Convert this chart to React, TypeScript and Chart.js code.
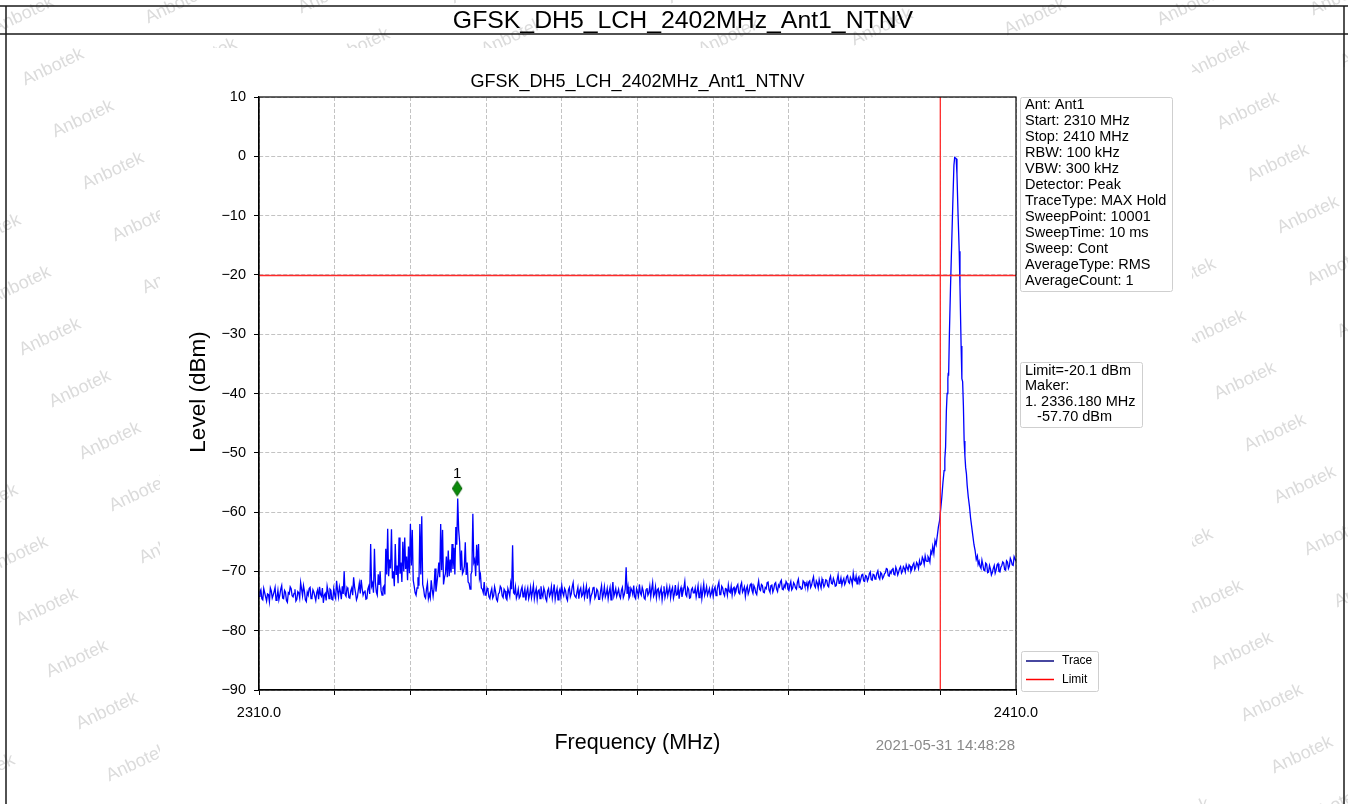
import React, { useEffect, useRef } from 'react';
import { Chart, registerables } from 'chart.js';

Chart.register(...registerables);

// ---------------- data ----------------
const TITLE = 'GFSK_DH5_LCH_2402MHz_Ant1_NTNV';
const X_TITLE = 'Frequency (MHz)';
const Y_TITLE = 'Level (dBm)';
const TIMESTAMP = '2021-05-31 14:48:28';

const FREQ_MIN = 2310;
const FREQ_MAX = 2410;
const FREQ_TICK_STEP = 10;
const X_LABELED_TICKS = [2310, 2410];
const LEVEL_MIN = -90;
const LEVEL_MAX = 10;
const LEVEL_TICK_STEP = 10;

// Trace samples on the 0.25 MHz grid, 2310.00 .. 2398.75 MHz
const TRACE_START = 2310;
const TRACE_STEP = 0.25;
const LEVELS_LOW = [
  -74.2, -73.1, -74.8, -73.6, -75.0, -73.9, -72.8, -74.5, -73.4, -74.9,
  -73.2, -74.0, -72.4, -74.6, -73.5, -75.2, -73.8, -72.9, -74.3, -73.0,
  -74.7, -73.6, -71.9, -74.1, -73.3, -75.1, -74.0, -72.7, -74.4, -73.5,
  -74.9, -73.1, -72.6, -74.2, -75.3, -73.7, -72.5, -74.6, -73.2, -74.8,
  -73.9, -71.6, -74.3, -73.4, -72.5, -70.0, -74.2, -73.0, -74.5, -72.8,
  -71.0, -73.6, -74.3, -72.0, -71.4, -74.0, -73.2, -74.6, -72.5, -65.4,
  -72.0, -66.2, -73.5, -70.5, -70.0, -74.0, -72.5, -66.2, -62.8, -68.0,
  -62.9, -70.0, -65.4, -69.0, -64.3, -68.5, -65.0, -64.3, -67.5, -65.8,
  -62.0, -63.0, -72.5, -74.0, -71.0, -62.0, -60.7, -73.0, -74.5, -72.0,
  -73.8, -71.5, -74.2, -69.5, -72.0, -68.5, -62.0, -63.0, -71.0, -67.5,
  -66.5, -68.0, -65.4, -66.0, -62.5, -57.7, -65.0, -66.5, -70.0, -65.1,
  -68.5, -72.0, -70.5, -60.3, -68.0, -65.5, -65.4, -70.5, -73.0, -71.8,
  -74.0, -73.2, -74.6, -72.9, -74.1, -73.4, -75.0, -73.6, -72.8, -74.4,
  -73.3, -74.8, -73.5, -72.0, -65.6, -73.8, -74.5, -73.0, -74.2, -72.6,
  -73.7, -74.9, -72.8, -73.9, -74.4, -72.3, -73.6, -74.7, -73.1, -72.5,
  -74.3, -73.4, -75.0, -72.9, -73.8, -74.5, -72.2, -73.6, -74.8, -73.0,
  -72.4, -74.1, -73.3, -74.9, -72.7, -73.8, -71.9, -74.2, -73.5, -74.6,
  -72.8, -73.9, -74.4, -72.5, -73.2, -75.0, -73.7, -72.6, -74.1, -73.3,
  -74.7, -72.4, -73.8, -74.3, -72.9, -73.5, -74.8, -71.8, -73.6, -74.2,
  -73.0, -74.5, -72.7, -73.9, -69.3, -72.6, -74.1, -73.2, -72.4, -74.6,
  -73.5, -72.2, -74.0, -73.3, -74.7, -72.8, -73.6, -74.3, -71.9, -73.8,
  -74.4, -72.9, -73.4, -74.8, -72.5, -73.7, -74.1, -72.6, -73.2, -74.5,
  -72.3, -73.9, -74.6, -72.7, -73.5, -71.7, -74.2, -73.0, -74.4, -72.8,
  -73.6, -74.3, -72.4, -73.8, -74.6, -72.1, -73.4, -74.0, -72.9, -73.7,
  -74.2, -72.6, -73.3, -71.8, -73.9, -72.8, -74.1, -73.0, -72.3, -73.6,
  -74.0, -72.7, -73.4, -72.2, -73.8, -71.9, -73.1, -74.2, -72.5, -73.3,
  -72.1, -73.7, -72.8, -73.9, -71.6, -73.2, -72.4, -73.6, -72.9, -71.8,
  -73.5, -72.3, -73.0, -71.9, -73.4, -72.6, -71.5, -73.1, -72.7, -72.0,
  -73.2, -71.7, -72.8, -72.2, -73.0, -71.3, -72.6, -72.9, -71.8, -72.4,
  -72.9, -71.6, -72.3, -70.9, -72.7, -72.0, -71.4, -72.8, -71.9, -72.2,
  -71.5, -72.6, -70.8, -72.1, -71.7, -72.4, -70.6, -71.9, -72.3, -71.2,
  -71.8, -70.7, -72.0, -71.4, -70.3, -71.6, -72.1, -70.9, -71.3, -70.5,
  -71.7, -70.8, -71.2, -70.1, -71.5, -70.6, -71.0, -69.9, -71.3, -70.4,
  -70.9, -70.2, -69.6, -70.8, -70.3, -69.4, -70.6, -69.8, -70.1, -69.2,
  -70.0, -69.5, -68.9, -69.8, -69.1, -69.6, -68.6, -69.3, -68.8, -68.2,
  -68.7, -68.0, -67.4, -68.3, -67.8, -66.6,
];

// Trace samples between the grid points, 2310.125 .. 2398.875 MHz
const MID_START = 2310.125;
const LEVELS_LOW_MID = [
  -73.5, -74.6, -72.9, -74.3, -73.8, -75.1, -73.3, -74.0, -72.7, -74.4,
  -74.8, -73.0, -74.5, -73.2, -74.9, -73.6, -72.6, -74.1, -73.7, -75.0,
  -73.4, -74.5, -73.0, -72.4, -74.8, -73.5, -72.9, -74.6, -73.1, -74.2,
  -73.6, -74.7, -73.9, -72.8, -74.0, -74.9, -73.4, -73.0, -74.7, -72.9,
  -74.5, -73.2, -72.6, -74.7, -73.8, -73.9, -72.7, -74.4, -73.3, -74.0,
  -72.6, -74.8, -73.1, -73.7, -72.9, -73.5, -74.7, -73.0, -73.8, -72.5,
  -73.6, -71.8, -74.0, -72.3, -73.2, -72.8, -73.9, -70.5, -70.8, -69.5,
  -71.2, -72.5, -70.6, -72.0, -70.4, -71.8, -70.0, -69.6, -71.5, -70.3,
  -69.0, -71.5, -73.6, -72.8, -72.4, -70.5, -72.2, -74.2, -73.0, -74.6,
  -74.5, -73.0, -72.8, -73.4, -70.6, -71.0, -69.8, -72.2, -70.4, -71.0,
  -70.8, -70.2, -69.6, -70.5, -65.5, -63.0, -69.8, -70.4, -69.2, -70.6,
  -71.8, -73.0, -70.0, -68.5, -70.8, -69.0, -71.2, -72.8, -73.6, -74.0,
  -72.8, -74.3, -73.5, -74.5, -72.6, -74.7, -73.8, -72.5, -74.1, -73.0,
  -74.5, -72.9, -74.2, -73.0, -73.6, -72.6, -73.9, -74.5, -73.1, -74.3,
  -72.9, -73.5, -74.6, -72.7, -73.4, -74.6, -72.9, -73.3, -74.6, -73.8,
  -72.8, -74.6, -73.3, -74.2, -72.6, -73.4, -74.7, -72.9, -73.5, -74.3,
  -73.6, -72.9, -74.5, -73.1, -74.3, -72.6, -73.8, -74.4, -72.7, -73.2,
  -74.2, -72.6, -73.5, -74.6, -72.9, -74.1, -72.8, -74.5, -73.0, -74.7,
  -73.3, -74.5, -72.6, -73.8, -74.6, -72.7, -73.5, -74.2, -72.9, -73.6,
  -74.1, -73.2, -74.4, -73.0, -73.8, -74.5, -72.8, -73.9, -74.3, -72.9,
  -74.2, -73.6, -72.7, -74.5, -73.1, -74.0, -72.5, -73.0, -74.2, -72.6,
  -73.1, -74.3, -72.8, -73.5, -74.4, -72.6, -73.3, -74.4, -72.7, -73.8,
  -74.0, -72.6, -73.2, -74.3, -72.8, -73.9, -72.7, -74.5, -73.1, -73.6,
  -72.8, -73.4, -74.4, -72.7, -73.3, -74.0, -72.6, -73.5, -74.2, -72.8,
  -73.0, -74.1, -72.4, -73.9, -72.5, -73.7, -72.9, -74.0, -73.4, -72.5,
  -72.9, -73.8, -72.5, -73.6, -72.4, -73.5, -72.6, -73.0, -73.8, -72.3,
  -73.2, -72.4, -73.6, -72.5, -73.0, -72.2, -73.5, -72.7, -71.9, -73.1,
  -72.4, -73.5, -72.1, -73.0, -72.3, -71.8, -73.0, -72.3, -71.7, -73.0,
  -72.3, -73.1, -71.9, -72.8, -71.8, -72.7, -73.0, -71.6, -72.5, -71.9,
  -71.8, -72.7, -71.5, -72.4, -71.6, -72.8, -72.2, -71.3, -72.6, -71.4,
  -72.4, -71.3, -72.0, -71.2, -72.5, -71.4, -72.0, -71.1, -71.6, -72.2,
  -70.9, -71.8, -71.0, -72.2, -71.4, -70.8, -71.2, -71.9, -70.6, -71.6,
  -70.7, -71.6, -70.4, -71.4, -70.5, -71.3, -70.3, -71.0, -70.2, -71.2,
  -70.4, -69.5, -70.7, -70.0, -69.7, -70.5, -69.3, -70.6, -69.5, -70.3,
  -69.2, -70.1, -69.4, -68.9, -70.0, -68.9, -69.7, -68.5, -69.5, -68.9,
  -67.6, -68.8, -68.2, -67.5, -68.4, -67.0,
];

// Carrier region, explicit frequencies
const PEAK_FREQS = [
  2399.0, 2399.15, 2399.3, 2399.45, 2399.6, 2399.75, 2399.9, 2400.05, 2400.2, 2400.35,
  2400.5, 2400.6, 2400.7, 2400.8, 2400.9, 2401.0, 2401.05, 2401.1, 2401.2, 2401.35,
  2401.5, 2401.65, 2401.8, 2401.9, 2402.0, 2402.1, 2402.2, 2402.35, 2402.5, 2402.6,
  2402.75, 2402.85, 2402.95, 2403.05, 2403.15, 2403.25, 2403.35, 2403.45, 2403.55, 2403.7,
  2403.85, 2404.0, 2404.15, 2404.3, 2404.45, 2404.6, 2404.75, 2404.9, 2405.0,
];
const PEAK_LEVELS = [
  -65.8, -67.0, -64.8, -65.5, -64.0, -62.5, -61.5, -59.5, -57.5, -55.0,
  -53.0, -51.0, -49.0, -43.0, -40.0, -37.5, -36.5, -37.0, -30.0, -22.0,
  -15.0, -8.0, -1.5, -0.2, -0.3, -0.4, -3.0, -10.0, -16.0, -22.0,
  -32.0, -37.5, -38.0, -42.0, -48.0, -50.5, -52.5, -53.5, -55.5, -57.5,
  -59.0, -61.0, -62.5, -64.0, -65.5, -66.5, -68.0, -67.4, -68.8,
];

// Trace above the carrier, 2405.25 .. 2410.00 MHz (grid) and 2405.125 .. 2409.875 MHz (between)
const HIGH_START = 2405.25;
const LEVELS_HIGH = [
  -69.2, -68.1, -69.8, -68.6, -70.2, -69.0, -70.6, -69.5, -70.3, -68.9,
  -70.0, -69.3, -68.4, -69.7, -68.2, -69.5, -67.8, -68.9, -67.5, -68.3,
];
const HIGH_MID_START = 2405.125;
const LEVELS_HIGH_MID = [
  -68.3, -69.5, -68.9, -69.9, -68.8, -70.1, -69.6, -70.2, -69.0, -69.8,
  -68.7, -70.1, -69.0, -68.6, -69.8, -68.4, -69.1, -68.2, -69.0, -67.9,
];

const LIMIT_LEVEL = -20.1;
const LIMIT_FREQ = 2400;
const MARKER_FREQ = 2336.18;
const MARKER_LEVEL = -57.7;
const MARKER_LABEL = '1';

const INFO_LINES = [
  'Ant: Ant1',
  'Start: 2310 MHz',
  'Stop: 2410 MHz',
  'RBW: 100 kHz',
  'VBW: 300 kHz',
  'Detector: Peak',
  'TraceType: MAX Hold',
  'SweepPoint: 10001',
  'SweepTime: 10 ms',
  'Sweep: Cont',
  'AverageType: RMS',
  'AverageCount: 1',
];
const MARKER_LINES = ['Limit=-20.1 dBm', 'Maker:', '1. 2336.180 MHz', '   -57.70 dBm'];
const LEGEND_ITEMS = [
  { label: 'Trace', color: '#0a0a80' },
  { label: 'Limit', color: '#ff0000' },
];
const WATERMARK = 'Anbotek';

// ---------------- styling ----------------
const W = 1348;
const H = 804;
const FONT = '"Liberation Sans", Arial, Helvetica, sans-serif';

function buildTrace() {
  const pts: { x: number; y: number }[] = [];
  LEVELS_LOW.forEach((v, i) => pts.push({ x: TRACE_START + i * TRACE_STEP, y: v }));
  LEVELS_LOW_MID.forEach((v, i) => pts.push({ x: MID_START + i * TRACE_STEP, y: v }));
  PEAK_FREQS.forEach((f, i) => pts.push({ x: f, y: PEAK_LEVELS[i] }));
  LEVELS_HIGH.forEach((v, i) => pts.push({ x: HIGH_START + i * TRACE_STEP, y: v }));
  LEVELS_HIGH_MID.forEach((v, i) => pts.push({ x: HIGH_MID_START + i * TRACE_STEP, y: v }));
  pts.sort((a, b) => a.x - b.x);
  return pts;
}

function makeDiamond(): HTMLCanvasElement {
  const c = document.createElement('canvas');
  c.width = 12;
  c.height = 42;
  const g = c.getContext('2d')!;
  const cx = 6;
  const cy = 11;
  g.beginPath();
  g.moveTo(cx, cy - 7.5);
  g.lineTo(cx + 4.8, cy);
  g.lineTo(cx, cy + 7.5);
  g.lineTo(cx - 4.8, cy);
  g.closePath();
  g.fillStyle = '#0b8a0b';
  g.fill();
  g.strokeStyle = '#066006';
  g.lineWidth = 1;
  g.stroke();
  return c;
}

function roundRect(ctx: CanvasRenderingContext2D, x: number, y: number, w: number, h: number, r: number) {
  ctx.beginPath();
  ctx.moveTo(x + r, y);
  ctx.lineTo(x + w - r, y);
  ctx.quadraticCurveTo(x + w, y, x + w, y + r);
  ctx.lineTo(x + w, y + h - r);
  ctx.quadraticCurveTo(x + w, y + h, x + w - r, y + h);
  ctx.lineTo(x + r, y + h);
  ctx.quadraticCurveTo(x, y + h, x, y + h - r);
  ctx.lineTo(x, y + r);
  ctx.quadraticCurveTo(x, y, x + r, y);
  ctx.closePath();
}

const decorPlugin = {
  id: 'decor',
  beforeDraw(chart: any) {
    const ctx: CanvasRenderingContext2D = chart.ctx;
    ctx.save();
    ctx.fillStyle = '#ffffff';
    ctx.fillRect(0, 0, W, H);
    // watermark texture
    ctx.font = `18px ${FONT}`;
    ctx.fillStyle = 'rgba(170,170,170,0.42)';
    ctx.textAlign = 'center';
    ctx.textBaseline = 'middle';
    const anchors = [
      { ax: 53, ay: 67, xmin: -80, xmax: 640 },
      { ax: 1248, ay: 111, xmin: 640, xmax: W + 80 },
    ];
    for (const a of anchors) {
      for (let m = -30; m <= 30; m++) {
        for (let n = -30; n <= 30; n++) {
          const x = a.ax + m * 30 - n * 153;
          const y = a.ay + m * 52 + n * 10;
          if (x < a.xmin || x > a.xmax || y < -30 || y > H + 30) continue;
          ctx.save();
          ctx.translate(x, y);
          ctx.rotate((-25 * Math.PI) / 180);
          ctx.fillText(WATERMARK, 0, 0);
          ctx.restore();
        }
      }
    }
    // opaque chart image area
    ctx.fillStyle = '#ffffff';
    ctx.fillRect(160, 48, 1032, H - 48);
    ctx.restore();
  },
  afterDraw(chart: any) {
    const ctx: CanvasRenderingContext2D = chart.ctx;
    const area = chart.chartArea;
    const xs = chart.scales.x;
    const ys = chart.scales.y;
    ctx.save();

    // outer frame
    ctx.strokeStyle = '#1a1a1a';
    ctx.lineWidth = 1.5;
    ctx.beginPath();
    ctx.moveTo(0, 6);
    ctx.lineTo(W, 6);
    ctx.moveTo(0, 34);
    ctx.lineTo(W, 34);
    ctx.moveTo(6, 6);
    ctx.lineTo(6, H);
    ctx.moveTo(1344, 6);
    ctx.lineTo(1344, H);
    ctx.stroke();

    ctx.fillStyle = '#000';
    ctx.textAlign = 'center';
    ctx.textBaseline = 'middle';
    ctx.font = `24.8px ${FONT}`;
    ctx.fillText(TITLE, 683, 21);

    // plot frame
    ctx.strokeStyle = '#000';
    ctx.lineWidth = 1.2;
    ctx.strokeRect(area.left, area.top, area.right - area.left, area.bottom - area.top);

    // inner title
    const cxp = (area.left + area.right) / 2;
    ctx.font = `18px ${FONT}`;
    ctx.fillText(TITLE, cxp, 82);

    // axis titles
    ctx.font = `21.5px ${FONT}`;
    ctx.fillText(X_TITLE, cxp, 743);
    ctx.save();
    ctx.font = `22.5px ${FONT}`;
    ctx.translate(199, 392);
    ctx.rotate(-Math.PI / 2);
    ctx.fillText(Y_TITLE, 0, 0);
    ctx.restore();

    // timestamp
    ctx.font = `15px ${FONT}`;
    ctx.fillStyle = '#8a8a8a';
    ctx.textAlign = 'right';
    ctx.fillText(TIMESTAMP, area.right - 1, 746);

    // marker label
    ctx.fillStyle = '#000';
    ctx.textAlign = 'center';
    ctx.font = `15px ${FONT}`;
    ctx.fillText(MARKER_LABEL, xs.getPixelForValue(MARKER_FREQ), ys.getPixelForValue(MARKER_LEVEL) - 25);

    // info boxes
    const drawBox = (x: number, y: number, w: number, h: number) => {
      roundRect(ctx, x + 0.5, y + 0.5, w, h, 2);
      ctx.fillStyle = 'rgba(255,255,255,0.9)';
      ctx.fill();
      ctx.strokeStyle = '#cfcfcf';
      ctx.lineWidth = 1;
      ctx.stroke();
    };
    const bx = area.right + 4;
    drawBox(bx, 97, 152, 194);
    ctx.fillStyle = '#000';
    ctx.textAlign = 'left';
    ctx.font = `14.5px ${FONT}`;
    INFO_LINES.forEach((t, i) => ctx.fillText(t, bx + 5, 105 + i * 16));

    drawBox(bx, 362, 122, 65);
    ctx.fillStyle = '#000';
    MARKER_LINES.forEach((t, i) => ctx.fillText(t, bx + 5, 370.5 + i * 15.6));

    // legend
    drawBox(bx + 1, 651, 77, 40);
    ctx.font = `12px ${FONT}`;
    LEGEND_ITEMS.forEach((it, i) => {
      const y = 661 + i * 18.5;
      ctx.strokeStyle = it.color;
      ctx.lineWidth = 1.5;
      ctx.beginPath();
      ctx.moveTo(bx + 6, y);
      ctx.lineTo(bx + 34, y);
      ctx.stroke();
      ctx.fillStyle = '#000';
      ctx.fillText(it.label, bx + 42, y);
    });

    ctx.restore();
  },
};

export default function App() {
  const ref = useRef<HTMLCanvasElement>(null);

  useEffect(() => {
    if (!ref.current) return;
    const tickFont = { family: FONT, size: 14.5 };
    const chart = new Chart(ref.current, {
      type: 'scatter',
      data: {
        datasets: [
          {
            label: 'Marker',
            data: [{ x: MARKER_FREQ, y: MARKER_LEVEL }],
            pointStyle: makeDiamond() as any,
            pointRadius: 6,
            showLine: false,
            order: 0,
            clip: false as any,
          },
          {
            label: 'Limit',
            data: [
              { x: FREQ_MIN, y: LIMIT_LEVEL },
              { x: FREQ_MAX, y: LIMIT_LEVEL },
            ],
            borderColor: '#ff2a2a',
            borderWidth: 1.3,
            pointRadius: 0,
            showLine: true,
            order: 1,
          },
          {
            label: 'Limit',
            data: [
              { x: LIMIT_FREQ, y: LEVEL_MIN },
              { x: LIMIT_FREQ, y: LEVEL_MAX },
            ],
            borderColor: '#ff2a2a',
            borderWidth: 1.3,
            pointRadius: 0,
            showLine: true,
            order: 1,
          },
          {
            label: 'Trace',
            data: buildTrace(),
            borderColor: '#0000ff',
            borderWidth: 1.3,
            pointRadius: 0,
            showLine: true,
            tension: 0,
            order: 2,
          },
        ],
      },
      options: {
        responsive: false,
        animation: false,
        events: [],
        layout: { padding: { top: 97, right: W - 1016, bottom: 0, left: 0 } },
        scales: {
          x: {
            type: 'linear',
            min: FREQ_MIN,
            max: FREQ_MAX,
            ticks: {
              stepSize: FREQ_TICK_STEP,
              autoSkip: false,
              maxRotation: 0,
              padding: 9,
              color: '#000',
              font: tickFont,
              callback: (v: any) => (X_LABELED_TICKS.includes(Number(v)) ? Number(v).toFixed(1) : ''),
            },
            grid: {
              color: '#b4b4b4',
              lineWidth: 0.8,
              tickColor: '#000',
              tickLength: 5,
              tickWidth: 1,
            },
            border: { display: true, color: '#000', width: 1.2, dash: [4, 2] },
            afterFit: (s: any) => {
              s.height = H - 690;
            },
          },
          y: {
            type: 'linear',
            min: LEVEL_MIN,
            max: LEVEL_MAX,
            ticks: {
              stepSize: LEVEL_TICK_STEP,
              padding: 8,
              color: '#000',
              font: tickFont,
              callback: (v: any) => {
                const n = Number(v);
                return n < 0 ? '\u2212' + Math.abs(n) : String(n);
              },
            },
            grid: {
              color: '#b4b4b4',
              lineWidth: 0.8,
              tickColor: '#000',
              tickLength: 5,
              tickWidth: 1,
            },
            border: { display: true, color: '#000', width: 1.2, dash: [4, 2] },
            afterFit: (s: any) => {
              s.width = 259;
            },
          },
        },
        plugins: {
          legend: { display: false },
          tooltip: { enabled: false },
          title: { display: false },
        },
      },
      plugins: [decorPlugin as any],
    } as any);
    return () => chart.destroy();
  }, []);

  return (
    <div style={{ position: 'fixed', left: 0, top: 0, width: W, height: H, background: '#fff' }}>
      <canvas ref={ref} width={W} height={H} style={{ display: 'block', width: W, height: H }} />
    </div>
  );
}
